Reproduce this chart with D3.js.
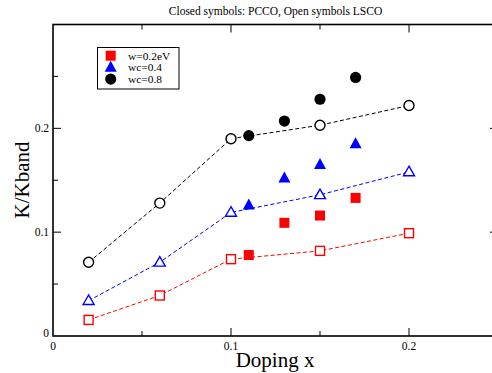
<!DOCTYPE html>
<html>
<head>
<meta charset="utf-8">
<script src="https://cdn.jsdelivr.net/npm/d3@7"></script>
<style>
  html, body { margin: 0; padding: 0; background: #fff; }
  svg { display: block; font-family: "Liberation Serif", "Times New Roman", serif; }
</style>
</head>
<body>
<svg id="chart" width="492" height="373"></svg>
<script>
// LSCO (open symbols, joined by dashed lines)
const lscoX = [0.02, 0.06, 0.10, 0.15, 0.20];
const lscoW02 = [0.0155, 0.039, 0.074, 0.082, 0.099];
const lscoW04 = [0.034, 0.071, 0.119, 0.136, 0.158];
const lscoW08 = [0.071, 0.128, 0.190, 0.203, 0.222];

// PCCO (closed symbols)
const pccoX = [0.11, 0.13, 0.15, 0.17];
const pccoW02 = [0.078, 0.109, 0.116, 0.133];
const pccoW04 = [0.126, 0.152, 0.165, 0.185];
const pccoW08 = [0.193, 0.207, 0.228, 0.249];

const seriesNames = ["w=0.2eV", "wc=0.4", "wc=0.8"];
const seriesColors = ["#ff0000", "#0000ff", "#000000"];
const seriesShapes = ["square", "triangle", "circle"];

const xMajorTicks = [0, 0.1, 0.2];
const xMinorTicks = [0.05, 0.15, 0.25];
const yMajorTicks = [0, 0.1, 0.2];
const yMinorTicks = [0.05, 0.15, 0.25];

const svg = d3.select("#chart");
const pLeft = 53, pRight = 498, pTop = 24.5, pBottom = 336;

const x = d3.scaleLinear().domain([0, 0.25]).range([pLeft, pRight]);
const y = d3.scaleLinear().domain([0, 0.3]).range([pBottom, pTop]);

// Frame
svg.append("rect")
  .attr("x", pLeft).attr("y", pTop)
  .attr("width", pRight - pLeft).attr("height", pBottom - pTop)
  .attr("fill", "none").attr("stroke", "#000").attr("stroke-width", 1.6);

// Inward ticks on all four sides
const tickG = svg.append("g").attr("stroke", "#000").attr("stroke-width", 1);
function hTicks(vals, len) {
  vals.forEach(v => {
    tickG.append("line").attr("x1", x(v)).attr("x2", x(v)).attr("y1", pBottom).attr("y2", pBottom - len);
    tickG.append("line").attr("x1", x(v)).attr("x2", x(v)).attr("y1", pTop).attr("y2", pTop + len);
  });
}
function vTicks(vals, len) {
  vals.forEach(v => {
    tickG.append("line").attr("y1", y(v)).attr("y2", y(v)).attr("x1", pLeft).attr("x2", pLeft + len);
    tickG.append("line").attr("y1", y(v)).attr("y2", y(v)).attr("x1", pRight).attr("x2", pRight - len);
  });
}
hTicks(xMajorTicks.filter(v => v > 0), 8);
hTicks(xMinorTicks, 5);
vTicks(yMajorTicks.filter(v => v > 0), 8);
vTicks(yMinorTicks, 5);

// Tick labels
const fmt = v => v === 0 ? "0" : d3.format(".1f")(v);
svg.append("g").selectAll("text").data(xMajorTicks).join("text")
  .attr("x", d => x(d)).attr("y", pBottom + 14)
  .attr("text-anchor", "middle").attr("font-size", 11.5).attr("fill", "#000")
  .text(fmt);
svg.append("g").selectAll("text").data(yMajorTicks).join("text")
  .attr("x", pLeft - 4).attr("y", d => y(d) + 4 - (d === 0 ? 3 : 0))
  .attr("text-anchor", "end").attr("font-size", 11.5).attr("fill", "#000")
  .text(fmt);

// Axis titles and heading
svg.append("text").attr("x", 275).attr("y", 367)
  .attr("text-anchor", "middle").attr("font-size", 21).text("Doping x");
svg.append("text").attr("transform", `translate(29,180) rotate(-90)`)
  .attr("text-anchor", "middle").attr("font-size", 21).text("K/Kband");
svg.append("text").attr("x", 275.5).attr("y", 15)
  .attr("text-anchor", "middle").attr("font-size", 11.5).text("Closed symbols: PCCO, Open symbols LSCO");

// Markers
function drawMarker(g, shape, cx, cy, color, filled) {
  const fill = filled ? color : "#fff";
  const sw = filled ? 0 : 1.4;
  if (shape === "square") {
    const s = filled ? 10 : 9;
    g.append("rect").attr("x", cx - s / 2).attr("y", cy - s / 2).attr("width", s).attr("height", s)
      .attr("fill", fill).attr("stroke", color).attr("stroke-width", sw);
  } else if (shape === "triangle") {
    const h = filled ? 11 : 9.5, w = filled ? 12 : 11;
    const pts = [[cx, cy - h * 0.6], [cx - w / 2, cy + h * 0.4], [cx + w / 2, cy + h * 0.4]];
    g.append("path").attr("d", "M" + pts.map(p => p.join(",")).join("L") + "Z")
      .attr("fill", fill).attr("stroke", color).attr("stroke-width", sw);
  } else {
    g.append("circle").attr("cx", cx).attr("cy", cy).attr("r", filled ? 5.6 : 5)
      .attr("fill", fill).attr("stroke", color).attr("stroke-width", filled ? 0 : 1.4);
  }
}

const lscoSeries = [lscoW02, lscoW04, lscoW08];
const pccoSeries = [pccoW02, pccoW04, pccoW08];
const line = d3.line().x(d => x(d[0])).y(d => y(d[1]));

lscoSeries.forEach((vals, i) => {
  const pts = lscoX.map((xv, j) => [xv, vals[j]]);
  svg.append("path").datum(pts).attr("d", line)
    .attr("fill", "none").attr("stroke", seriesColors[i]).attr("stroke-width", 1)
    .attr("stroke-dasharray", "4,2.5");
});

const markG = svg.append("g");
lscoSeries.forEach((vals, i) => {
  lscoX.forEach((xv, j) => drawMarker(markG, seriesShapes[i], x(xv), y(vals[j]), seriesColors[i], false));
});
pccoSeries.forEach((vals, i) => {
  pccoX.forEach((xv, j) => drawMarker(markG, seriesShapes[i], x(xv), y(vals[j]), seriesColors[i], true));
});

// Legend
const lg = svg.append("g");
lg.append("rect").attr("x", 97.5).attr("y", 47.5).attr("width", 81.5).attr("height", 41.5)
  .attr("fill", "#fff").attr("stroke", "#000").attr("stroke-width", 1);
seriesNames.forEach((name, i) => {
  const ly = 55.7 + i * 11.7;
  drawMarker(lg, seriesShapes[i], 110.7, ly, seriesColors[i], true);
  lg.append("text").attr("x", 128).attr("y", ly + 3.8).attr("font-size", 11.4).text(name);
});
</script>
</body>
</html>
